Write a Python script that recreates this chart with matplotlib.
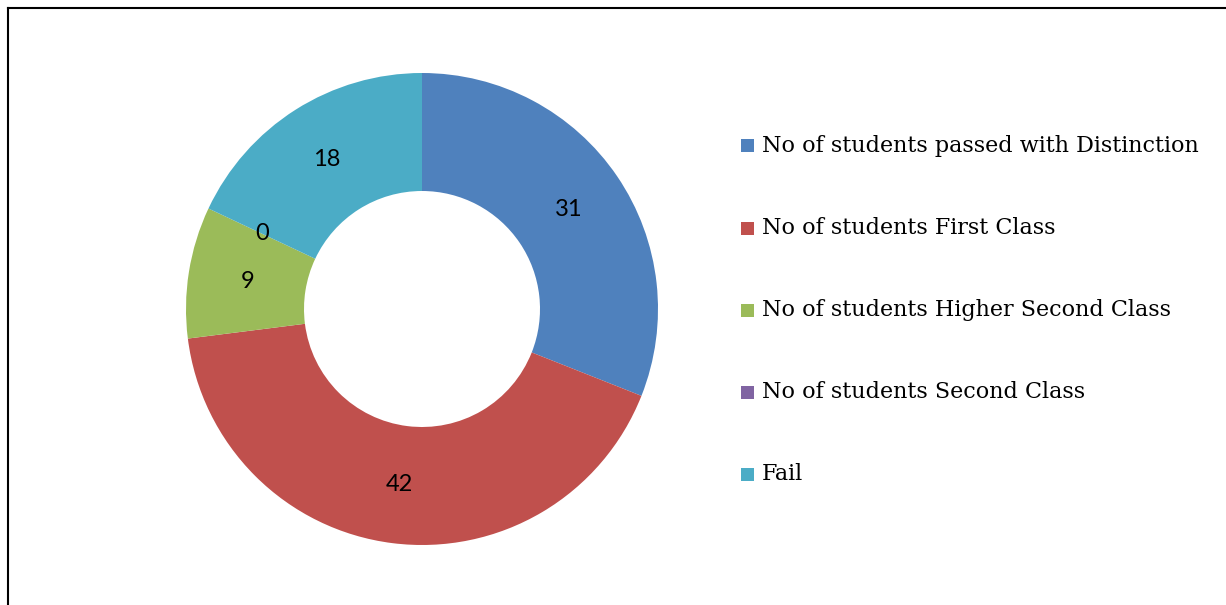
import matplotlib
matplotlib.use("Agg")
import numpy as np
import matplotlib.pyplot as plt
from matplotlib.patches import Rectangle
from matplotlib.lines import Line2D

categories = [
    "No of students passed with Distinction",
    "No of students First Class",
    "No of students Higher Second Class",
    "No of students Second Class",
    "Fail",
]
values = [31, 42, 9, 0, 18]
colors = ["#4F81BD", "#C0504D", "#9BBB59", "#8064A2", "#4BACC6"]

W, H = 1226, 605
fig = plt.figure(figsize=(W / 100, H / 100), dpi=100)
fig.patch.set_facecolor("white")

# donut axes: centre (422, 309) px, outer radius 236 px
cx, cy, R = 422, 309, 236
ax = fig.add_axes([(cx - R) / W, (H - cy - R) / H, 2 * R / W, 2 * R / H])
wedges, _ = ax.pie(
    values,
    colors=colors,
    startangle=90,
    counterclock=False,
    radius=1.0,
    wedgeprops=dict(width=0.5, linewidth=0),
)
ax.set_xlim(-1, 1)
ax.set_ylim(-1, 1)
ax.set_aspect("equal")
ax.axis("off")

# value labels in the middle of the ring
total = sum(values)
cum = 0.0
for v in values:
    mid = cum + v / 2
    ang = np.deg2rad(90 - 360 * mid / total)
    ax.text(0.75 * np.cos(ang), 0.75 * np.sin(ang), str(v),
            ha="center", va="center", fontsize=17,
            family=["Lato", "DejaVu Sans"], color="black")
    cum += v

# legend
y0, dy = 146, 82
for i, (lab, col) in enumerate(zip(categories, colors)):
    y = y0 + i * dy
    fig.patches.append(Rectangle((741 / W, 1 - (y + 6.5) / H), 13 / W, 13 / H,
                                 transform=fig.transFigure, facecolor=col,
                                 edgecolor="none"))
    fig.text(762 / W, 1 - y / H, lab, ha="left", va="center",
             fontsize=16, family="DejaVu Serif", color="black")

# frame lines (left and top)
fig.add_artist(Line2D([7.5 / W, 7.5 / W], [0, 1 - 7.5 / H], color="black", lw=1.5,
                      transform=fig.transFigure))
fig.add_artist(Line2D([7.5 / W, 1], [1 - 7.5 / H, 1 - 7.5 / H], color="black", lw=1.5,
                      transform=fig.transFigure))

fig.savefig("out.png", dpi=100)
